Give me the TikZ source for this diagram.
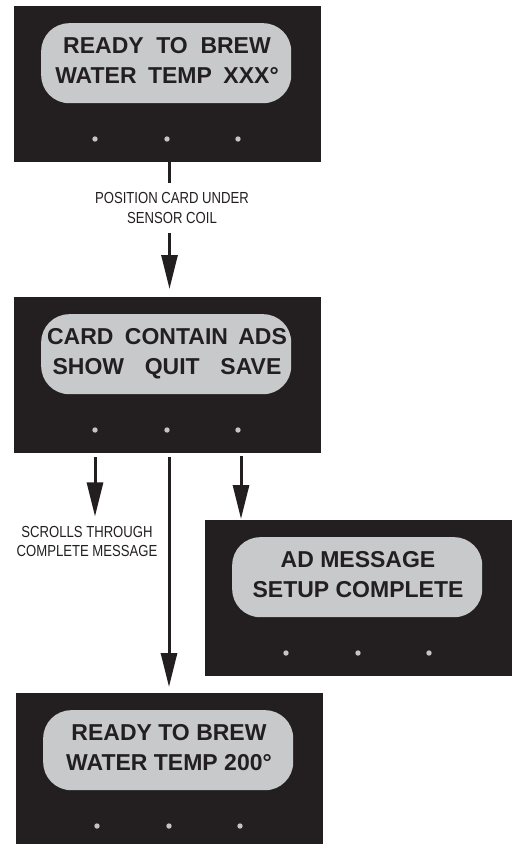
\documentclass[tikz,border=0pt]{standalone}
\usepackage{fontspec}
\setmainfont{Liberation Sans}
\newfontfamily\condfont{Liberation Sans}[FakeStretch=0.82]
\usetikzlibrary{arrows.meta}

\definecolor{panelblack}{HTML}{231F20}
\definecolor{lcdgray}{HTML}{C8C9CB}
\definecolor{ledgray}{HTML}{C4C5C7}

% word gap of a given width (in em) for the display texts
\newcommand\wgap[1]{\hspace{#1em}}

% one control panel: name, left x, top y, first and second display line
\newcommand\lcdpanel[5]{%
  \begin{scope}[shift={(#2,#3)}]
    \node[panelbox] (#1) at (0,0) {};
    \node[pillbox] (#1-pill) at (27,17) {};
    \node[lcdtext] (#1-l1) at (153,47) {#4};
    \node[lcdtext] (#1-l2) at (153,77) {#5};
    \node[led] (#1-d1) at (81,133) {};
    \node[led] (#1-d2) at (153,133) {};
    \node[led] (#1-d3) at (224,133) {};
  \end{scope}}

\begin{document}
\begin{tikzpicture}[x=1pt, y=-1pt,
  panelbox/.style={anchor=north west, fill=panelblack, minimum width=307pt,
    minimum height=156pt, inner sep=0pt, outer sep=0pt},
  pillbox/.style={anchor=north west, fill=lcdgray, rounded corners=28pt,
    minimum width=250pt, minimum height=80pt, inner sep=0pt},
  lcdtext/.style={anchor=base, text=panelblack, inner sep=0pt,
    font=\fontsize{23}{28}\selectfont\bfseries},
  led/.style={circle, fill=ledgray, minimum size=5.4pt, inner sep=0pt},
  plainline/.style={line width=3pt, draw=panelblack},
  flow/.style={plainline, -{Triangle[length=34pt,width=16pt]}},
  steplabel/.style={font=\condfont\fontsize{16}{19.7}\selectfont,
    text=panelblack, align=center, inner xsep=2pt, inner ysep=9.5pt}]

  \useasboundingbox (0,0) rectangle (514,844);

  % panels
  \lcdpanel{p1}{14}{6}{READY\wgap{0.55}TO\wgap{0.55}BREW}{WATER\wgap{0.5}TEMP\wgap{0.5}XXX°}
  \lcdpanel{p2}{14}{297}{CARD\wgap{0.5}CONTAIN\wgap{0.45}ADS}{SHOW\wgap{0.9}QUIT\wgap{0.9}SAVE}
  \lcdpanel{p3}{205}{520}{AD MESSAGE}{SETUP COMPLETE}
  \lcdpanel{p4}{16}{693}{READY TO BREW}{WATER TEMP 200°}

  % connector columns
  \coordinate (c1) at (169.5,0);
  \coordinate (c2) at (95,0);
  \coordinate (c3) at (169,0);
  \coordinate (c4) at (241,0);

  % step labels
  \node[steplabel] (lab1) at (172,208) {POSITION CARD UNDER\\SENSOR COIL};
  \node[steplabel] (lab2) at (87,541.6) {SCROLLS THROUGH\\COMPLETE MESSAGE};

  % connectors
  \draw[plainline] (p1.south -| c1) -- (c1 |- lab1.north);
  \draw[flow, shorten >=8pt] (c1 |- lab1.south) -- (c1 |- p2.north);
  \draw[flow, shorten <=4pt] (p2.south -| c2) -- (c2 |- lab2.north);
  \draw[flow, shorten <=4pt, shorten >=6pt] (p2.south -| c3) -- (c3 |- p4.north);
  \draw[flow, shorten <=3pt, shorten >=1pt] (p2.south -| c4) -- (c4 |- p3.north);
\end{tikzpicture}
\end{document}
